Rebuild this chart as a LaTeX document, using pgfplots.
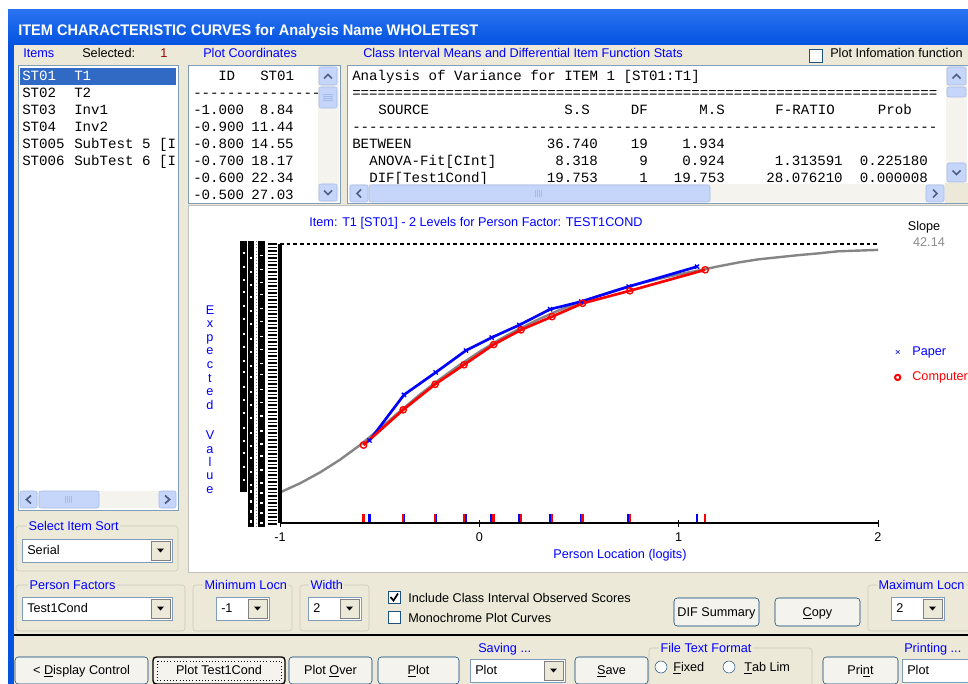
\documentclass[border=0pt]{standalone}
\usepackage{pgfplots}
\pgfplotsset{compat=1.18}
\usepackage{graphicx}
\usepackage{fontspec}
\setmainfont{Liberation Sans}
\newfontfamily\mono{Liberation Mono}
\definecolor{winbg}{HTML}{ECE9D8}
\definecolor{xpblue}{HTML}{0353E0}
\definecolor{xptop}{HTML}{2A73F0}
\definecolor{lblue}{HTML}{0000FF}
\definecolor{selblue}{HTML}{316AC5}
\definecolor{lbord}{HTML}{7F9DB9}
\definecolor{sbtn}{HTML}{C6D6FB}
\definecolor{sbtnb}{HTML}{A4BAE8}
\definecolor{sarr}{HTML}{4D6185}
\definecolor{strack}{HTML}{F4F3EE}
\definecolor{grpline}{HTML}{C8C8B4}
\definecolor{btnb}{HTML}{003C74}
\definecolor{btnfill}{HTML}{F4F3EE}
\definecolor{chkb}{HTML}{1C5180}
\definecolor{curvegray}{HTML}{858585}
\definecolor{slopegray}{HTML}{8C8C8C}
\definecolor{selred}{HTML}{990000}
\newcommand{\gf}{\fontsize{9.5}{10.5}\selectfont}
\newcommand{\mf}{\mono\fontsize{10.6}{12}\selectfont}
\newcommand{\dashes}[1]{\foreach\i in {1,...,#1}{-\kern0pt}}
\newcommand{\equals}[1]{\foreach\i in {1,...,#1}{=\kern0pt}}
\tikzset{
 gl/.style={anchor=base west, inner sep=0pt, font=\gf},
 ml/.style={anchor=base west, inner sep=0pt, font=\mf},
 mr/.style={anchor=base east, inner sep=0pt, font=\mf},
 sb/.style={draw=sbtnb, fill=sbtn, rounded corners=1.5pt},
 arr/.style={draw=sarr, line width=1.3pt},
 grp/.style={draw=grpline, rounded corners=2pt},
 lbl/.style={gl, text=lblue, fill=winbg, inner xsep=1pt},
}
\newcommand{\combo}[5]{%
  \draw[lbord, fill=white] (#1,#2) rectangle (#3,#4);
  \node[gl] at (#1+5,{(#2+#4)/2+4}) {#5};
  \draw[gray, fill=winbg] (#3-21,#2+2) rectangle (#3-2,#4-2);
  \fill[black] (#3-15,{(#2+#4)/2-2}) -- (#3-8,{(#2+#4)/2-2}) -- (#3-11.5,{(#2+#4)/2+2}) -- cycle;}
\newcommand{\btn}[5]{%
  \draw[btnb, fill=btnfill, rounded corners=2.5pt] (#1,#2) rectangle (#3,#4);
  \node[anchor=base, inner sep=0pt, font=\gf] at ({(#1+#3)/2},{(#2+#4)/2+4}) {#5};}
\begin{document}
\begin{tikzpicture}
\begin{scope}[x=0.75pt,y=-0.75pt]
\fill[white] (0,0) rectangle (968,684);
\fill[winbg] (8,10) rectangle (968,684);
\fill[xpblue] (8,10) rectangle (14,684);
\shade[top color=xptop, bottom color=xpblue] (8,10) rectangle (968,45);
\node[anchor=base west, inner sep=0pt, text=white] at (18,35.5) {\resizebox{345pt}{\height}{\fontsize{11.5}{12}\selectfont\bfseries ITEM CHARACTERISTIC CURVES for Analysis Name WHOLETEST}};
% label row
\node[gl, text=lblue] at (23,58) {Items};
\node[gl] at (82,58) {Selected:};
\node[gl, text=selred] at (160,58) {1};
\node[gl, text=lblue] at (203,58) {Plot Coordinates};
\node[gl, text=lblue] at (363,58) {Class Interval Means and Differential Item Function Stats};
\draw[chkb, fill=white] (809,49) rectangle (822,62);
\node[gl] at (830,58) {Plot Infomation function};
% items list
\draw[lbord, fill=white] (18,65) rectangle (178,510);
\fill[selblue] (20,68) rectangle (176,85);
\node[ml, text=white] at (22,81) {ST01}; \node[ml, text=white] at (74,81) {T1};
\node[ml] at (22,98) {ST02}; \node[ml] at (74,98) {T2};
\node[ml] at (22,115) {ST03}; \node[ml] at (74,115) {Inv1};
\node[ml] at (22,132) {ST04}; \node[ml] at (74,132) {Inv2};
\node[ml] at (22,149) {ST005}; \node[ml] at (74,149) {SubTest 5 [I};
\node[ml] at (22,166) {ST006}; \node[ml] at (74,166) {SubTest 6 [I};
\fill[strack] (20,491) rectangle (176,508);
\draw[sb] (20,491) rectangle (37,508);
\draw[sb] (159,491) rectangle (176,508);
\draw[sb] (39,491) rectangle (99,508);
\draw[arr] (31,495.5) -- (26.5,499.5) -- (31,503.5);
\draw[arr] (165,495.5) -- (169.5,499.5) -- (165,503.5);
\foreach \g in {65,67,69,71} \draw[sbtnb] (\g,496) -- (\g,503);
% select item sort
\draw[grp] (16,526) rectangle (178,571);
\node[lbl] at (27,530) {Select Item Sort};
\combo{22}{539}{172}{562}{Serial}
% plot coordinates box
\draw[lbord, fill=white] (188,65) rectangle (340,203);
\begin{scope}
\clip (189,66) rectangle (317,202);
\node[ml] at (218,81) {ID}; \node[ml] at (260,81) {ST01};
\node[ml] at (193,98) {\dashes{15}};
\node[ml] at (193,115) {-1.000}; \node[mr] at (294,115) {8.84};
\node[ml] at (193,132) {-0.900}; \node[mr] at (294,132) {11.44};
\node[ml] at (193,149) {-0.800}; \node[mr] at (294,149) {14.55};
\node[ml] at (193,166) {-0.700}; \node[mr] at (294,166) {18.17};
\node[ml] at (193,183) {-0.600}; \node[mr] at (294,183) {22.34};
\node[ml] at (193,200) {-0.500}; \node[mr] at (294,200) {27.03};
\end{scope}
\fill[strack] (318,66) rectangle (339,202);
\draw[sb] (319,67) rectangle (337,85);
\draw[sb] (319,87) rectangle (337,108);
\draw[sb] (319,184) rectangle (337,201);
\draw[arr] (324,78.5) -- (328,74.5) -- (332,78.5);
\draw[arr] (324,190.5) -- (328,194.5) -- (332,190.5);
\foreach \g in {94,96,98,100} \draw[sbtnb] (323,\g) -- (333,\g);
% class interval box
\draw[lbord, fill=white] (347,65) rectangle (975,203);
\begin{scope}
\clip (348,66) rectangle (945,184);
\node[ml] at (352,81) {Analysis of Variance for ITEM 1 [ST01:T1]};
\node[ml] at (352,98) {\equals{69}};
\node[ml] at (378,115) {SOURCE};
\node[mr] at (590,115) {S.S}; \node[mr] at (648,115) {DF}; \node[mr] at (725,115) {M.S};
\node[mr] at (835,115) {F-RATIO}; \node[mr] at (912,115) {Prob};
\node[ml] at (352,132) {\dashes{69}};
\node[ml] at (352,149) {BETWEEN};
\node[mr] at (598,149) {36.740}; \node[mr] at (648,149) {19}; \node[mr] at (725,149) {1.934};
\node[ml] at (369,166) {ANOVA-Fit[CInt]};
\node[mr] at (598,166) {8.318}; \node[mr] at (648,166) {9}; \node[mr] at (725,166) {0.924};
\node[mr] at (843,166) {1.313591}; \node[mr] at (928,166) {0.225180};
\node[ml] at (369,183) {DIF[Test1Cond]};
\node[mr] at (598,183) {19.753}; \node[mr] at (648,183) {1}; \node[mr] at (725,183) {19.753};
\node[mr] at (843,183) {28.076210}; \node[mr] at (928,183) {0.000008};
\end{scope}
\fill[strack] (946,66) rectangle (967,183);
\draw[sb] (947,67) rectangle (966,85);
\draw[sb] (947,87) rectangle (966,97);
\draw[sb] (947,163) rectangle (966,182);
\draw[arr] (952.5,78.5) -- (956.5,74.5) -- (960.5,78.5);
\draw[arr] (952.5,170.5) -- (956.5,174.5) -- (960.5,170.5);
\fill[strack] (349,184) rectangle (945,202);
\draw[sb] (350,185) rectangle (368,202);
\draw[sb] (369,185) rectangle (710,202);
\draw[sb] (926,185) rectangle (944,202);
\draw[arr] (361,189.5) -- (357,193.5) -- (361,197.5);
\draw[arr] (933,189.5) -- (937,193.5) -- (933,197.5);
\foreach \g in {535,537,539,541} \draw[sbtnb] (\g,190) -- (\g,197);
\fill[winbg] (945,183) rectangle (968,203);
% plot area
\draw[gray!50, fill=white] (188,205) rectangle (975,572);
\node[anchor=base, inner sep=0pt, font=\gf, text=lblue] at (476,227) {Item: T1 [ST01] - 2 Levels for Person Factor: TEST1COND};
\node[anchor=base, inner sep=0pt, font=\gf] at (924,231) {Slope};
\node[anchor=base, inner sep=0pt, font=\gf, text=slopegray] at (929,247) {42.14};
\foreach \l [count=\i] in {E,x,p,e,c,t,e,d}
  \node[anchor=base, inner sep=0pt, font=\gf, text=lblue] at (210,{300.5+\i*13.6}) {\l};
\foreach \l [count=\i] in {V,a,l,u,e}
  \node[anchor=base, inner sep=0pt, font=\gf, text=lblue] at (210,{426.5+\i*13.3}) {\l};
\node[anchor=base, inner sep=0pt, font=\gf, text=lblue] at (620,558) {Person Location (logits)};
% overprinted label columns at left of axis
\fill[black] (240,241) rectangle (247,492);
\fill[black] (248,241) rectangle (254,527);
\draw[gray, dotted] (256,241) -- (256,527);
\fill[black] (258,241) rectangle (265,527);
\foreach \yy in {244,247.5,...,526} \draw[black, line width=1.4pt] (268,\yy) -- (277,\yy);
\foreach \yy in {252,266,279,291,305,318,333,346,360,371,386,399,412,427,440,452,466,479} {
  \fill[white] (243,\yy) rectangle (245,\yy+2);
  \fill[white] (250,\yy+5) rectangle (252,\yy+7);
  \fill[white] (260,\yy+3) rectangle (263,\yy+4.5);}
\foreach \yy in {490,500,510,520} {
  \fill[white] (250,\yy) rectangle (252,\yy+3);
  \fill[white] (260,\yy+2) rectangle (263,\yy+4);}
% bottom panel
\draw[grp] (16,585) rectangle (185,631);
\node[lbl] at (28,589) {Person Factors};
\combo{22}{597}{172}{620}{Test1Cond}
\draw[grp] (193,585) rectangle (292,631);
\node[lbl] at (203,589) {Minimum Locn};
\combo{216}{597}{269}{620}{-1}
\draw[grp] (300,585) rectangle (369,631);
\node[lbl] at (309,589) {Width};
\combo{308}{597}{361}{620}{2}
\draw[chkb, fill=white] (388,591) rectangle (400,603);
\draw[black, line width=1.3pt] (390.5,597) -- (393.5,600.5) -- (398,593.5);
\node[gl] at (408,602) {Include Class Interval Observed Scores};
\draw[chkb, fill=white] (388,611) rectangle (400,623);
\node[gl] at (408,622) {Monochrome Plot Curves};
\btn{674}{598}{759}{626}{DIF Summary}
\btn{775}{598}{860}{626}{\underline{C}opy}
\draw[grp] (868,585) rectangle (975,631);
\node[lbl] at (877,589) {Maximum Locn};
\combo{891}{597}{944}{620}{2}
\draw[black, line width=1.5pt] (14,635) -- (968,635);
\node[gl, text=lblue] at (478,652) {Saving ...};
\draw[grp] (649,648) rectangle (812,690);
\node[lbl] at (659,652) {File Text Format};
\node[gl, text=lblue] at (904,652) {Printing ...};
\btn{15}{657}{148}{684}{< \underline{D}isplay Control}
\draw[black, line width=1pt, rounded corners=2.5pt, fill=btnfill] (153,657) rectangle (285,684);
\draw[black, dotted] (157,661) rectangle (281,680);
\node[anchor=base, inner sep=0pt, font=\gf] at (219,674.5) {Plot Test1Cond};
\btn{289}{657}{372}{684}{Plot \underline{O}ver}
\btn{378}{657}{459}{684}{\underline{P}lot}
\combo{470}{659}{565}{682}{Plot}
\btn{575}{657}{648}{684}{\underline{S}ave}
\draw[chkb, fill=white] (661,667) circle (4.5pt);
\node[gl] at (673,671) {\underline{F}ixed};
\draw[chkb, fill=white] (729,667) circle (4.5pt);
\node[gl] at (744,671) {\underline{T}ab Lim};
\btn{823}{657}{898}{684}{Pri\underline{n}t}
\combo{902}{659}{990}{682}{Plot}
\end{scope}
\begin{axis}[
  at={(210pt,-392.475pt)}, anchor=south west,
  scale only axis, width=448.5pt, height=209.5pt,
  xmin=-1, xmax=2, ymin=0, ymax=80,
  clip=false,
  axis line style={draw=none},
  ytick=\empty,
  xtick={-1,0,1,2}, xticklabels={-1,0,1,2},
  xtick pos=left,
  tick align=center,
  major tick length=5.25pt,
  tick style={black, line width=0.75pt},
  xticklabel style={font=\gf, inner sep=0pt, yshift=-4.5pt},
  legend style={at={(1.028,0.643)}, anchor=north west, draw=none, fill=none,
    font=\gf, row sep=7pt, column sep=7pt, inner sep=0pt, legend cell align=left},
]
\addplot[curvegray, line width=1.8pt, forget plot] coordinates {
(-1.0,8.84) (-0.9,11.44) (-0.8,14.55) (-0.7,18.17) (-0.6,22.34) (-0.5,27.03)
(-0.4,32.0) (-0.3,36.8) (-0.2,41.2) (-0.1,45.3) (0.0,49.1) (0.1,52.6)
(0.2,55.7) (0.3,58.5) (0.4,61.0) (0.5,63.2) (0.6,65.2) (0.7,67.0)
(0.8,68.6) (0.9,70.0) (1.0,71.3) (1.1,72.4) (1.2,73.6) (1.3,74.7)
(1.4,75.6) (1.5,76.2) (1.6,76.8) (1.7,77.3) (1.8,77.9) (1.9,78.1) (2.0,78.3)};
\addplot[black, dash pattern=on 2.7pt off 2.3pt, line width=0.8pt, forget plot] coordinates {(-1,80) (2,80)};
\addplot[ycomb, blue, line width=1.9pt, no marks, forget plot] coordinates {
(-0.551,2.6) (-0.378,2.6) (-0.219,2.6) (-0.067,2.6) (0.062,2.6) (0.201,2.6) (0.355,2.6) (0.511,2.6) (0.749,2.6) (1.092,2.6)};
\addplot[ycomb, red, line width=1.9pt, no marks, forget plot] coordinates {
(-0.581,2.6) (-0.382,2.6) (-0.222,2.6) (-0.077,2.6) (0.072,2.6) (0.209,2.6) (0.365,2.6) (0.518,2.6) (0.755,2.6) (1.133,2.6)};
\addplot[black, line width=1.7pt, forget plot] coordinates {(-1,0) (2,0)};
\addplot[black, line width=3.5pt, forget plot] coordinates {(-1,0) (-1,80)};
\addplot[blue, line width=2pt, mark=x, mark size=2.2pt, mark options={line width=1pt}, forget plot] coordinates {
(-0.551,23.7) (-0.378,36.8) (-0.219,43.2) (-0.067,49.5) (0.062,53.2) (0.201,56.8) (0.355,61.3) (0.511,63.5) (0.749,67.8) (1.092,73.5)};
\addplot[red, line width=2pt, mark=o, mark size=2.4pt, mark options={line width=1pt}, forget plot] coordinates {
(-0.581,22.4) (-0.382,32.5) (-0.222,39.8) (-0.077,45.4) (0.072,51.2) (0.209,55.4) (0.365,59.2) (0.518,63.0) (0.755,66.6) (1.133,72.6)};
\addlegendimage{only marks, mark=x, blue, mark size=2pt}
\addlegendentry{\textcolor{blue}{Paper}}
\addlegendimage{only marks, mark=o, red, mark size=2pt, line width=1.5pt}
\addlegendentry{\textcolor{red}{Computer}}
\end{axis}
\pgfresetboundingbox
\useasboundingbox (0pt,0pt) rectangle (726pt,-513pt);
\end{tikzpicture}
\end{document}
